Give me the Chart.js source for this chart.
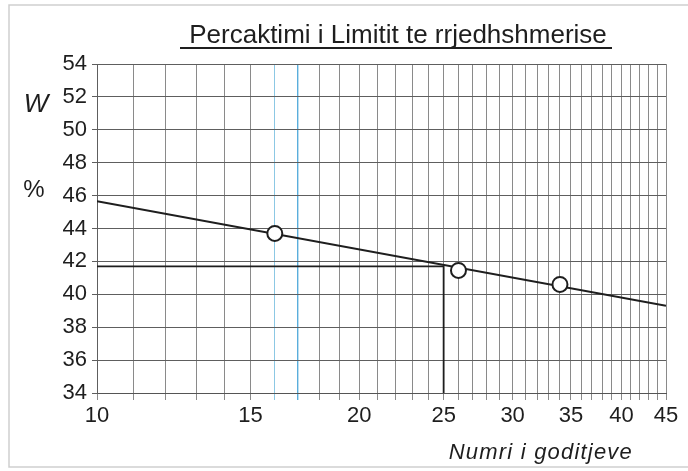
<!DOCTYPE html>
<html>
<head>
<meta charset="utf-8">
<script src="https://cdn.jsdelivr.net/npm/chart.js@4/dist/chart.umd.min.js"></script>
<style>
    html, body { margin: 0; padding: 0; background: #fff; }
    #wrap { position: relative; width: 688px; height: 471px; }
</style>
</head>
<body>
<div id="wrap"><canvas id="llChart" width="688" height="471"></canvas></div>
<script>
// number of blows (log scale) and water content W %
const testBlows = [16, 26, 34];
const testWater = [43.7, 41.45, 40.6];

// flow line
const flowBlows = [10, 45];
const flowWater = [45.65, 39.3];

// construction line for the liquid limit at 25 blows
const limitBlows = [10, 25, 25];
const limitWater = [41.7, 41.7, 34];

const xLabels = [10, 15, 20, 25, 30, 35, 40, 45];
const yTicks = [34, 36, 38, 40, 42, 44, 46, 48, 50, 52, 54];
// blue rulings of the printed sheet
const paleBlue = 16;
const strongBlue = 17;

// grid every blow from 10 to 45
const xGrid = [];
for (let b = 10; b <= 45; b++) xGrid.push(b);

function toPoints(xs, ys) {
    return xs.map(function (x, i) { return { x: x, y: ys[i] }; });
}

const font = "'Liberation Sans', Arial, sans-serif";

// title, axis captions and the page frame
const sheetText = {
    id: 'sheetText',
    afterDraw: function (chart) {
        const ctx = chart.ctx;
        const y = chart.scales.y;
        ctx.save();

        // frame of the scanned sheet
        ctx.strokeStyle = '#cfcfcf';
        ctx.lineWidth = 1.5;
        ctx.beginPath();
        ctx.moveTo(688, 5);
        ctx.lineTo(9, 5);
        ctx.lineTo(9, 467);
        ctx.lineTo(688, 467);
        ctx.stroke();

        ctx.fillStyle = '#1e1e1e';
        ctx.font = '26px ' + font;
        ctx.textAlign = 'center';
        ctx.textBaseline = 'alphabetic';
        ctx.fillText('Percaktimi i Limitit te rrjedhshmerise', 398, 43, 420);
        ctx.strokeStyle = '#1e1e1e';
        ctx.lineWidth = 2;
        ctx.beginPath();
        ctx.moveTo(180, 48);
        ctx.lineTo(612, 48);
        ctx.stroke();

        ctx.textBaseline = 'middle';
        ctx.font = 'italic 26px ' + font;
        ctx.fillText('W', 36, y.getPixelForValue(51.5));
        ctx.font = '24px ' + font;
        ctx.fillText('%', 34, y.getPixelForValue(46.3));

        ctx.font = 'italic 22px ' + font;
        ctx.textAlign = 'right';
        ctx.textBaseline = 'alphabetic';
        if ('letterSpacing' in ctx) ctx.letterSpacing = '1.2px';
        ctx.fillText('Numri i goditjeve', 633, 459);
        ctx.restore();
    }
};

function tickValue(c) {
    return c.tick ? Math.round(c.tick.value) : null;
}

function gridColor(c) {
    const v = tickValue(c);
    if (v === strongBlue) return '#5aaedc';
    if (v === paleBlue) return '#8cc8e4';
    return '#8a8a8a';
}

function gridWidth(c) {
    return tickValue(c) === strongBlue ? 1.4 : 1;
}

const ctx = document.getElementById('llChart').getContext('2d');
const chart = new Chart(ctx, {
    type: 'scatter',
    data: {
        datasets: [{
            label: 'Tests',
            data: toPoints(testBlows, testWater),
            showLine: false,
            pointRadius: 7.5,
            pointHoverRadius: 7.5,
            pointBackgroundColor: '#ffffff',
            pointBorderColor: '#1e1e1e',
            pointBorderWidth: 2,
            order: 0
        }, {
            label: 'Flow line',
            data: toPoints(flowBlows, flowWater),
            showLine: true,
            borderColor: '#1e1e1e',
            borderWidth: 2,
            pointRadius: 0,
            order: 1
        }, {
            label: 'Limit',
            data: toPoints(limitBlows, limitWater),
            showLine: true,
            borderColor: '#1e1e1e',
            borderWidth: 1.8,
            pointRadius: 0,
            order: 2
        }]
    },
    options: {
        responsive: false,
        animation: false,
        devicePixelRatio: 1,
        layout: { padding: { top: 64, right: 22, left: 0, bottom: 0 } },
        plugins: {
            legend: { display: false },
            title: { display: false },
            tooltip: { enabled: false }
        },
        scales: {
            x: {
                type: 'logarithmic',
                min: 10,
                max: 45,
                afterBuildTicks: function (axis) {
                    axis.ticks = xGrid.map(function (v) { return { value: v }; });
                },
                afterFit: function (scale) { scale.height = 78; },
                ticks: {
                    autoSkip: false,
                    maxRotation: 0,
                    padding: 3,
                    color: '#1e1e1e',
                    font: { family: font, size: 22 },
                    callback: function (value) {
                        return xLabels.indexOf(value) >= 0 ? String(value) : '';
                    }
                },
                grid: {
                    tickLength: 7,
                    lineWidth: gridWidth,
                    color: gridColor
                },
                border: { color: '#555' }
            },
            y: {
                min: 34,
                max: 54,
                afterBuildTicks: function (axis) {
                    axis.ticks = yTicks.map(function (v) { return { value: v }; });
                },
                afterFit: function (scale) { scale.width = 97; },
                ticks: {
                    padding: 5,
                    color: '#1e1e1e',
                    font: { family: font, size: 22 }
                },
                grid: { tickLength: 5, lineWidth: 1, color: '#5e5e5e' },
                border: { color: '#5e5e5e' }
            }
        }
    },
    plugins: [sheetText]
});
</script>
</body>
</html>
